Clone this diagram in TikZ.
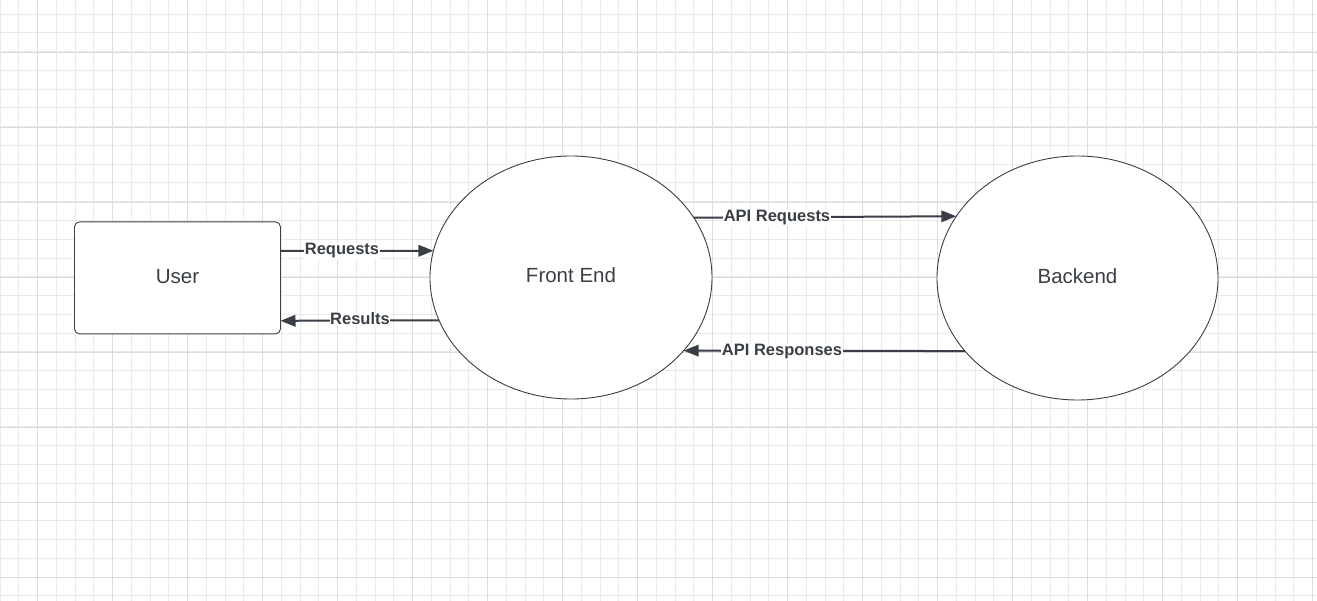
\documentclass[tikz,border=0pt]{standalone}
\usepackage{fontspec}
\setmainfont{Liberation Sans}
\usetikzlibrary{shapes.geometric,arrows.meta}
\definecolor{ink}{HTML}{3A3F47}
\definecolor{gridminor}{HTML}{EAEAEA}
\definecolor{gridmajor}{HTML}{DCDCDC}
\tikzset{
  minorline/.style={draw=gridminor,line width=0.9pt},
  majorline/.style={draw=gridmajor,line width=0.9pt},
  procbox/.style={draw=ink,line width=0.9pt,fill=white,rounded corners=5pt,
    minimum width=206pt,minimum height=112pt,inner sep=0pt,outer sep=0pt,
    text=ink,font=\fontsize{20.5}{24}\selectfont},
  procell/.style={ellipse,draw=ink,line width=0.9pt,fill=white,
    inner sep=0pt,outer sep=0pt,text=ink,font=\fontsize{20.5}{24}\selectfont},
  flow/.style={draw=ink,line width=2pt,-{Triangle[length=15pt,width=11.5pt]}},
  lbl/.style={fill=white,inner sep=0.5pt,anchor=base,text=ink,font=\fontsize{16.5}{19}\selectfont\bfseries}
}
\begin{document}
\begin{tikzpicture}[x=1pt,y=-1pt]
\useasboundingbox (0,0) rectangle (1317,601);
\fill[white] (0,0) rectangle (1317,601);
% grid
\foreach \i in {0,...,70} {
  \draw[minorline] (\i*18.75,0) -- (\i*18.75,601);
}
\foreach \j in {0,...,31} {
  \draw[minorline] (0,14+\j*18.77) -- (1317,14+\j*18.77);
}
\foreach \i in {0,...,17} {
  \draw[majorline] (37.5+\i*75,0) -- (37.5+\i*75,601);
}
\foreach \j in {0,...,7} {
  \draw[majorline] (0,52.3+\j*75.08) -- (1317,52.3+\j*75.08);
}
% nodes
\node[procbox] (user) at (177.5,277.9) {\raisebox{2pt}{User}};
\node[procell,minimum width=282pt,minimum height=243pt] (fe) at (571,277.5) {\raisebox{4.5pt}{Front End}};
\node[procell,minimum width=281pt,minimum height=244pt] (be) at (1077.5,278) {\raisebox{4.5pt}{Backend}};
% connectors
\draw[flow] ([yshift=26.9pt]user.east) -- (fe.169.1);
\draw[flow] (fe.198.3) -- ([yshift=-42.9pt]user.east);
\draw[flow] (fe.26.0) -- (be.153.7);
\draw[flow] (be.213.5) -- (fe.-33.8);
% labels
\node[lbl] (lreq) at (342,255) {Requests};
\node[lbl] (lres) at (360,325) {Results};
\node[lbl] (lapireq) at (777,222) {API Requests};
\node[lbl] (lapires) at (782,356) {API Responses};
\end{tikzpicture}
\end{document}
